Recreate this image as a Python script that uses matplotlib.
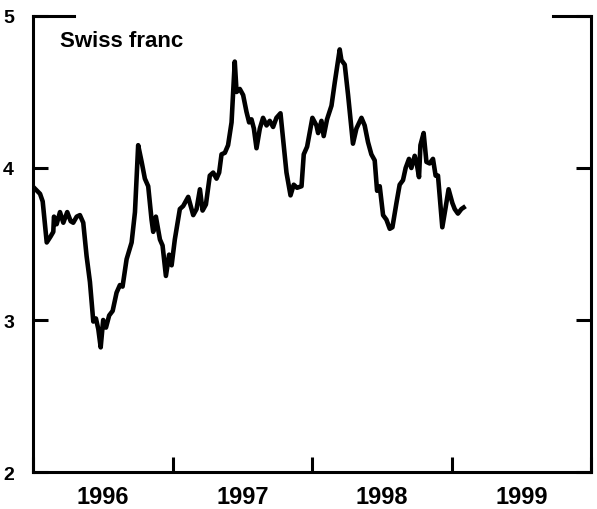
import numpy as np
import matplotlib
matplotlib.use("Agg")
import matplotlib.pyplot as plt

# Swiss franc series (decimal year, value)
years = 1996 + np.array([
    0.004, 0.047, 0.066, 0.095, 0.123, 0.142, 0.147, 0.166, 0.190, 0.214,
    0.242, 0.267, 0.285, 0.310, 0.333, 0.357, 0.381, 0.405, 0.429, 0.448,
    0.465, 0.482, 0.500, 0.520, 0.543, 0.568, 0.596, 0.620, 0.639, 0.668,
    0.704, 0.728, 0.751, 0.776, 0.799, 0.823, 0.847, 0.859, 0.878, 0.907,
    0.926, 0.950, 0.973, 0.991, 1.014, 1.050, 1.074, 1.110, 1.146, 1.170,
    1.194, 1.213, 1.237, 1.265, 1.289, 1.313, 1.332, 1.349, 1.373, 1.396,
    1.421, 1.444, 1.457, 1.480, 1.504, 1.528, 1.547, 1.564, 1.581, 1.600,
    1.624, 1.647, 1.672, 1.695, 1.719, 1.743, 1.772, 1.791, 1.815, 1.844,
    1.867, 1.891, 1.923, 1.939, 1.963, 2.001, 2.030, 2.042, 2.066, 2.082,
    2.106, 2.138, 2.161, 2.197, 2.209, 2.233, 2.257, 2.281, 2.292, 2.317,
    2.353, 2.376, 2.400, 2.424, 2.448, 2.465, 2.484, 2.508, 2.532, 2.556,
    2.575, 2.604, 2.627, 2.651, 2.670, 2.694, 2.711, 2.735, 2.751, 2.766,
    2.776, 2.799, 2.819, 2.842, 2.866, 2.885, 2.902, 2.933, 2.955, 2.978,
    3.005, 3.022, 3.045, 3.070, 3.086,
])
franc = np.array([
    3.87, 3.83, 3.78, 3.51, 3.55, 3.58, 3.68, 3.63, 3.71, 3.64,
    3.71, 3.65, 3.64, 3.68, 3.69, 3.64, 3.42, 3.25, 2.99, 3.01,
    2.94, 2.82, 3.00, 2.95, 3.03, 3.06, 3.18, 3.23, 3.22, 3.40,
    3.51, 3.71, 4.15, 4.04, 3.93, 3.88, 3.66, 3.58, 3.68, 3.53,
    3.49, 3.29, 3.43, 3.36, 3.53, 3.73, 3.75, 3.81, 3.69, 3.73,
    3.86, 3.72, 3.76, 3.95, 3.97, 3.93, 3.97, 4.09, 4.10, 4.15,
    4.30, 4.70, 4.50, 4.52, 4.48, 4.37, 4.30, 4.32, 4.26, 4.13,
    4.26, 4.33, 4.28, 4.31, 4.27, 4.33, 4.36, 4.19, 3.97, 3.82,
    3.89, 3.87, 3.88, 4.09, 4.14, 4.33, 4.28, 4.23, 4.31, 4.21,
    4.32, 4.41, 4.56, 4.78, 4.71, 4.68, 4.48, 4.26, 4.16, 4.26,
    4.33, 4.28, 4.17, 4.09, 4.05, 3.85, 3.88, 3.69, 3.66, 3.60,
    3.61, 3.77, 3.89, 3.92, 4.00, 4.06, 4.00, 4.08, 4.02, 3.94,
    4.15, 4.23, 4.04, 4.03, 4.06, 3.95, 3.95, 3.61, 3.73, 3.86,
    3.77, 3.73, 3.70, 3.73, 3.74,
])

year_bounds = [1996, 1997, 1998, 1999, 2000]
year_labels = ["1996", "1997", "1998", "1999"]
y_ticks = [2, 3, 4, 5]

plt.rcParams['font.family'] = ['Liberation Sans', 'DejaVu Sans']

fig = plt.figure(figsize=(5.97, 5.10), dpi=100)
ax = fig.add_axes([0.0561, 0.0725, 0.9339, 0.8942])

ax.plot(years, franc, color="black", lw=3.3, solid_joinstyle="round")

ax.set_xlim(1996, 2000)
ax.set_ylim(2, 5)

for side in ["left", "right", "bottom"]:
    ax.spines[side].set_linewidth(2.2)
ax.spines["top"].set_visible(False)
# partial top border
for x0, x1 in [(0, 0.073), (0.932, 1.0)]:
    ax.plot([x0, x1], [1, 1], transform=ax.transAxes, color="black",
            lw=2.2, clip_on=False, solid_capstyle="projecting")

ax.set_xticks(year_bounds)
ax.set_xticklabels([])
ax.set_xticks([y + 0.5 for y in year_bounds[:-1]], minor=True)
ax.set_xticklabels(year_labels, minor=True, fontsize=17, fontweight="bold")
ax.tick_params(axis="x", which="major", direction="in", length=11, width=2.2)
ax.tick_params(axis="x", which="minor", length=0, pad=9)

ax.set_yticks(y_ticks)
ax.set_yticklabels([str(v) for v in y_ticks], fontsize=14, fontweight="bold")
ax.tick_params(axis="y", direction="in", length=11, width=2.2,
               right=True, pad=14)

ax.text(0.048, 0.947, "Swiss franc", transform=ax.transAxes,
        fontsize=16, fontweight="bold", va="center", ha="left")

fig.savefig("out.png", dpi=100)
